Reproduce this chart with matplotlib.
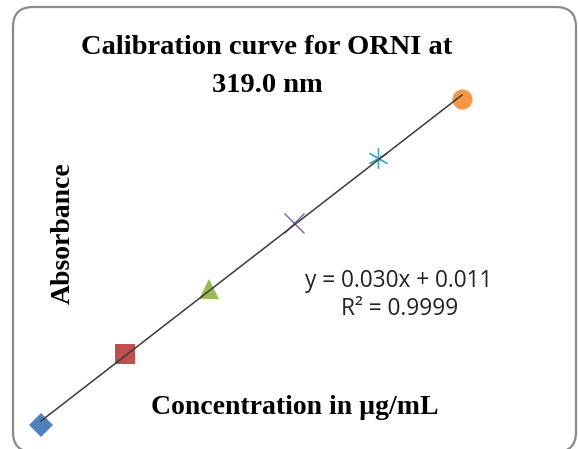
import numpy as np
import matplotlib
matplotlib.use("Agg")
import matplotlib.pyplot as plt
from matplotlib.patches import FancyBboxPatch

# concentration (ug/mL) and absorbance
conc = [5, 10, 15, 20, 25, 30]
absorbance = [0.152, 0.316, 0.464, 0.616, 0.767, 0.901]
markers = ["D", "s", "^", "x", "*", "o"]
colors = ["#4F81BD", "#C0504D", "#9BBB59", "#8064A2", "#4BACC6", "#F79646"]
sizes = [12, 15, 14.5, 15, 15, 14.5]

# linear trendline (label text as printed on the chart)
slope, intercept = np.polyfit(conc, absorbance, 1)
eq_text = "y = 0.030x + 0.011"
r2_text = "R\u00b2 = 0.9999"

fig = plt.figure(figsize=(5.78, 4.49), dpi=100)

# rounded chart border, in inches so the corners stay round
border = FancyBboxPatch((0.13, -0.03), 5.63, 4.45,
                        boxstyle="round,pad=0,rounding_size=0.2",
                        transform=fig.dpi_scale_trans, facecolor="none",
                        edgecolor="#8a8a8a", linewidth=1.6, zorder=0)
fig.patches.append(border)

ax = fig.add_axes([0, 0, 1, 1])
ax.set_facecolor("none")
ax.set_zorder(2)
ax.axis("off")
ax.set_xlim(2.565, 36.89)
ax.set_ylim(0.0966, 1.1296)

for x, y, m, c, s in zip(conc, absorbance, markers, colors, sizes):
    if m == "x":
        ax.plot(x, y, marker=m, color=c, markersize=s, markeredgewidth=1.0, linestyle="none", zorder=2)
    elif m == "*":
        ax.plot(x, y, marker=(6, 2, 0), color=c, markersize=s, markeredgewidth=1.0, linestyle="none", zorder=2)
    else:
        ax.plot(x, y, marker=m, color=c, markersize=s, markeredgewidth=0, linestyle="none", zorder=2)

xs = np.array([min(conc), max(conc)])
ax.plot(xs, slope * xs + intercept, color="#3a3a3a", linewidth=1.1, zorder=3)

serif = ["Liberation Serif", "DejaVu Serif"]
fig.text(267 / 578, 1 - 47 / 449, "Calibration curve for ORNI at", ha="center", va="center",
         fontsize=20.5, fontweight="bold", family=serif)
fig.text(267 / 578, 1 - 85 / 449, "319.0 nm", ha="center", va="center",
         fontsize=20.5, fontweight="bold", family=serif)
fig.text(63 / 578, 1 - 233 / 449, "Absorbance", ha="center", va="center", rotation=90,
         fontsize=20, fontweight="bold", family=serif)
fig.text(295 / 578, 1 - 408 / 449, "Concentration in \u00b5g/mL", ha="center", va="center",
         fontsize=20, fontweight="bold", family=serif)

sans = ["Open Sans", "DejaVu Sans"]
fig.text(399 / 578, 1 - 281 / 449, eq_text, ha="center", va="center",
         fontsize=16.3, family=sans, color="#222222")
fig.text(400 / 578, 1 - 309 / 449, r2_text, ha="center", va="center",
         fontsize=16.3, family=sans, color="#222222")

fig.savefig("out.png", dpi=100)
